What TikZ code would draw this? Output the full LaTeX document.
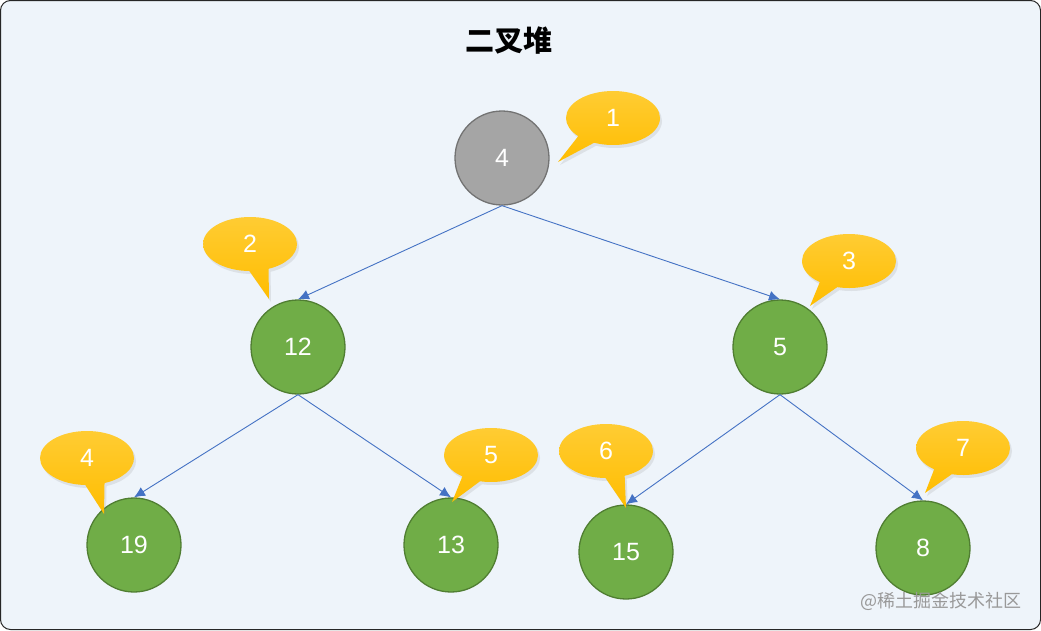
\documentclass[tikz,border=0pt]{standalone}
\usepackage{fontspec}
\setmainfont{Liberation Sans}
\newfontfamily\cjk{Noto Sans CJK SC}
\usepackage{tikz}
\usetikzlibrary{arrows.meta,shapes.callouts,shadows}
\definecolor{bgblue}{HTML}{EEF4FA}
\definecolor{heapgreen}{HTML}{70AD47}
\definecolor{heapgreenline}{HTML}{507E32}
\definecolor{heapgrey}{HTML}{A5A5A5}
\definecolor{heapgreyline}{HTML}{737373}
\definecolor{edgeblue}{HTML}{4472C4}
\definecolor{tagtop}{HTML}{FFCC33}
\definecolor{tagbottom}{HTML}{FFBD00}
\tikzstyle{vertex}=[draw=heapgreenline,fill=heapgreen,circle,minimum size=94pt,inner sep=0pt,line width=1.3pt,text=white,font=\fontsize{25}{25}\selectfont]
\tikzstyle{rootvertex}=[vertex,draw=heapgreyline,fill=heapgrey]
\tikzstyle{tag}=[ellipse callout,top color=tagtop,bottom color=tagbottom,draw=none,minimum width=94pt,minimum height=54pt,inner sep=0pt,callout pointer arc=24,text=white,font=\fontsize{25}{25}\selectfont,drop shadow={opacity=0.16,shadow xshift=2pt,shadow yshift=-3pt}]
\tikzstyle{link}=[-{Latex[length=11pt,width=10pt]},edgeblue,line width=0.9pt]
\begin{document}
\begin{tikzpicture}[x=1pt,y=-1pt]
\useasboundingbox (0,0) rectangle (1041,630);
\draw[rounded corners=10pt,fill=bgblue,draw=black!85,line width=1pt] (0.5,0.5) rectangle (1040.5,629.5);
\node[font=\cjk\bfseries\fontsize{29}{29}\selectfont] (title) at (509,41) {二叉堆};
% heap nodes
\node [rootvertex] (r) at (502,158) {4};
\node [vertex] (a) at (298,347) {12};
\node [vertex] (b) at (780,347) {5};
\node [vertex] (c) at (134,545) {19};
\node [vertex] (d) at (451,545) {13};
\node [vertex] (e) at (626,552) {15};
\node [vertex] (f) at (923,548) {8};
\draw [link] (r.south) -- (a.north);
\draw [link] (r.south) -- (b.north);
\draw [link] (a.south) -- (c.north);
\draw [link] (a.south) -- (d.north);
\draw [link] (b.south) -- (e.north);
\draw [link] (b.south) -- (f.north);
% index tags
\node [tag,callout absolute pointer={(558,162)}] (t1) at (613,118) {1};
\node [tag,callout absolute pointer={(269,299)}] (t2) at (250,244) {2};
\node [tag,callout absolute pointer={(810,306)}] (t3) at (849,261) {3};
\node [tag,callout absolute pointer={(104,514)}] (t4) at (87,458) {4};
\node [tag,callout absolute pointer={(452,502)}] (t5) at (491,455) {5};
\node [tag,callout absolute pointer={(626,508)}] (t6) at (606,451) {6};
\node [tag,callout absolute pointer={(925,493)}] (t7) at (963,448) {7};
\node [text=black!40,font=\cjk\fontsize{18}{18}\selectfont] (mark) at (941,601) {@稀土掘金技术社区};
\end{tikzpicture}
\end{document}
